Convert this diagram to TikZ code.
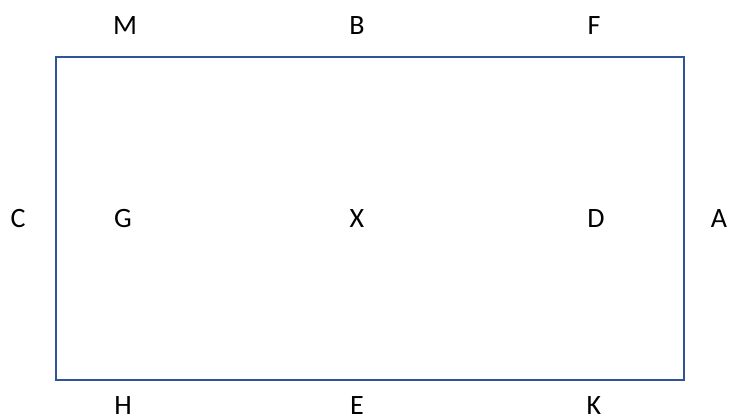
\documentclass[tikz,border=0pt]{standalone}
\usepackage{fontspec}
\setmainfont{Carlito}
\definecolor{boxblue}{HTML}{2F5597}
\begin{document}
\begin{tikzpicture}[x=1pt,y=1pt,
  lbl/.style={inner sep=0pt,font=\fontsize{28}{32}\selectfont,text=black}]
\useasboundingbox (0,0) rectangle (729,420);
\node[draw=boxblue,line width=2.5pt,minimum width=628pt,minimum height=323pt,inner sep=0pt] (r) at (370,201.5) {};
\node[lbl] (M) at (125,394) {M};
\node[lbl] (B) at (357,394) {B};
\node[lbl] (F) at (594,394) {F};
\node[lbl] (C) at (18,201) {C};
\node[lbl] (G) at (123,201) {G};
\node[lbl] (X) at (357,201) {X};
\node[lbl] (D) at (596,201) {D};
\node[lbl] (A) at (719,201) {A};
\node[lbl] (H) at (123,14) {H};
\node[lbl] (E) at (357,14) {E};
\node[lbl] (K) at (594,14) {K};
\end{tikzpicture}
\end{document}
